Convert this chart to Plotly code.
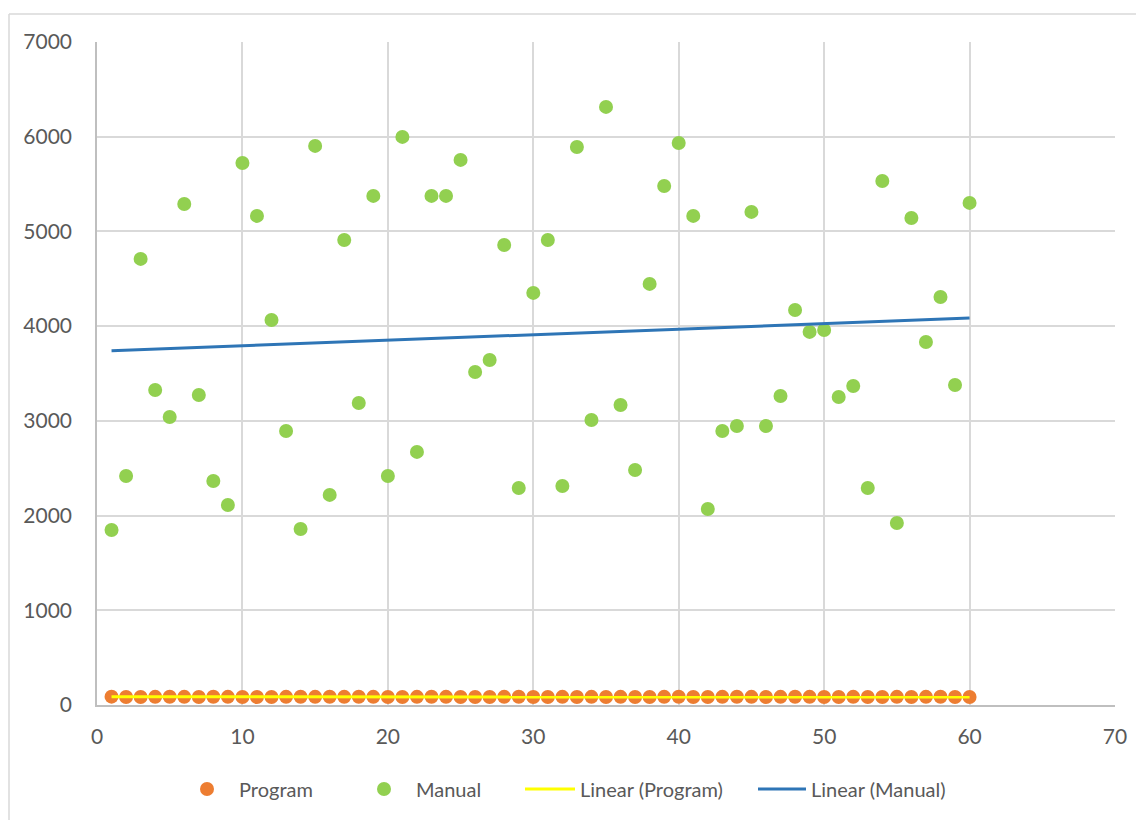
import numpy as np
import plotly.graph_objects as go

x_vals = list(range(1, 61))
program = [88, 84, 85, 86, 87, 86, 85, 87, 86, 85, 84, 85, 86, 87, 86, 87, 86, 87, 86, 85,
           84, 86, 87, 86, 85, 84, 85, 86, 87, 85, 84, 86, 85, 86, 85, 86, 84, 85, 86, 87,
           85, 84, 86, 87, 86, 85, 86, 87, 86, 85, 84, 86, 85, 84, 86, 85, 86, 87, 85, 84]
manual = [1848, 2418, 4710, 3326, 3041, 5290, 3273, 2365, 2112, 5723,
          5164, 4065, 2893, 1858, 5903, 2218, 4910, 3189, 5375, 2418,
          5998, 2672, 5375, 5375, 5755, 3516, 3643, 4857, 2291, 4351,
          4910, 2312, 5892, 3009, 6315, 3168, 2481, 4446, 5480, 5934,
          5164, 2070, 2893, 2946, 5206, 2946, 3263, 4171, 3939, 3960,
          3252, 3368, 2291, 5533, 1922, 5142, 3833, 4308, 3379, 5301]
x_ticks = [0, 10, 20, 30, 40, 50, 60, 70]
y_ticks = [0, 1000, 2000, 3000, 4000, 5000, 6000, 7000]

xa = np.array(x_vals, dtype=float)
pp = np.polyfit(xa, np.array(program, dtype=float), 1)
pm = np.polyfit(xa, np.array(manual, dtype=float), 1)
trend_x = [x_vals[0], x_vals[-1]]
trend_prog = [float(np.polyval(pp, v)) for v in trend_x]
trend_man = [float(np.polyval(pm, v)) for v in trend_x]

# figure is drawn at an 8px body offset in the page
W, H = 1136, 812
L, R, T, B = 89, 29, 34, 115
pw, ph = W - L - R, H - T - B

def px(x):
    return (x - L) / pw

def py(y):
    return 1 - (y - T) / ph

fig = go.Figure()
fig.add_trace(go.Scatter(x=x_vals, y=program, mode="markers", name="Program", legend="legend",
                         marker=dict(color="#ED7D31", size=14)))
fig.add_trace(go.Scatter(x=x_vals, y=manual, mode="markers", name="Manual", legend="legend2",
                         marker=dict(color="#92D050", size=14)))
fig.add_trace(go.Scatter(x=trend_x, y=trend_prog, mode="lines", name="Linear (Program)",
                         legend="legend3", line=dict(color="#FFFF00", width=3)))
fig.add_trace(go.Scatter(x=trend_x, y=trend_man, mode="lines", name="Linear (Manual)",
                         legend="legend4", line=dict(color="#2E75B6", width=3)))

shapes = [
    dict(type="line", xref="paper", yref="paper", x0=px(1), x1=px(1), y0=py(6), y1=py(812),
         line=dict(color="#d9d9d9", width=1.5)),
    dict(type="line", xref="paper", yref="paper", x0=px(1), x1=px(1136), y0=py(6), y1=py(6),
         line=dict(color="#d9d9d9", width=1.5)),
]

leg_font = dict(size=20, color="#595959")
ly = py(781)

def leg(xpix, iw):
    return dict(orientation="h", x=px(xpix), xanchor="left", y=ly, yanchor="middle",
                font=leg_font, itemwidth=iw, borderwidth=0, bgcolor="rgba(0,0,0,0)")

fig.update_layout(
    width=W, height=H,
    margin=dict(l=L, r=R, t=T, b=B),
    paper_bgcolor="white", plot_bgcolor="white",
    font=dict(family="Lato, 'Open Sans', sans-serif", size=21, color="#595959"),
    showlegend=True,
    legend=leg(167, 54),
    legend2=leg(344, 54),
    legend3=leg(512, 50),
    legend4=leg(745, 48),
    shapes=shapes,
    xaxis=dict(range=[0, 70], tickvals=x_ticks, showgrid=True, gridcolor="#d9d9d9", gridwidth=1.5,
               zeroline=False, showline=True, linecolor="#bfbfbf", linewidth=1.5, ticks="",
               ticklabelstandoff=12, tickfont=dict(size=21)),
    yaxis=dict(range=[0, 7000], tickvals=y_ticks, showgrid=True, gridcolor="#d9d9d9", gridwidth=1.5,
               zeroline=False, showline=True, linecolor="#bfbfbf", linewidth=1.5, ticks="",
               ticklabelstandoff=19, tickfont=dict(size=21)),
)

fig.write_html("out.html")
